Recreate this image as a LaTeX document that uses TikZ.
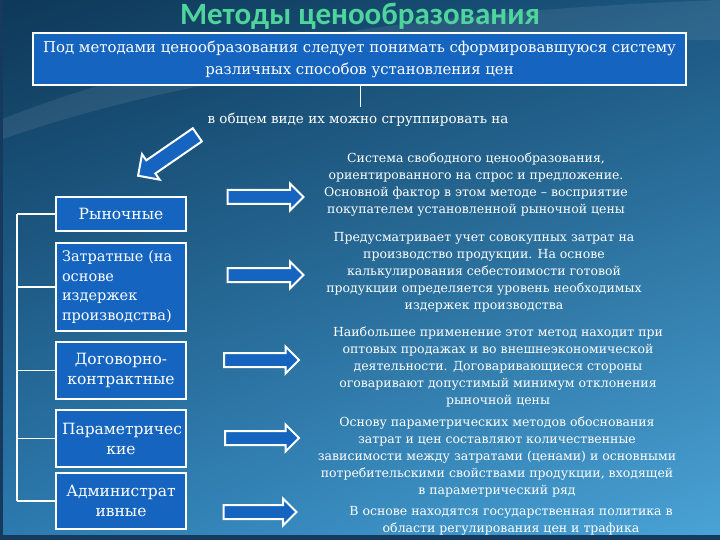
\documentclass[tikz,border=0pt]{standalone}
\usepackage{fontspec}
\setmainfont{DejaVu Serif}
\newfontfamily\titlefont{Carlito}
\usetikzlibrary{shapes.arrows,shadings}
\definecolor{boxblue}{HTML}{1565C0}
\definecolor{titlegreen}{HTML}{4FD49C}
\definecolor{bgUL}{HTML}{0E3858}
\definecolor{bgUR}{HTML}{1B5680}
\definecolor{bgLL}{HTML}{2C7AAF}
\definecolor{bgLR}{HTML}{4AA3D6}
\definecolor{edgedark}{HTML}{163A5E}
\tikzset{
  bluebox/.style={draw=white, line width=2.2pt, fill=boxblue, text=white, inner sep=3pt},
  lbox/.style={bluebox, minimum width=130pt, text width=118pt, align=center,
    font=\fontsize{15.5}{20}\selectfont},
  blockarrow/.style={single arrow, draw=white, line width=2pt, fill=boxblue,
    inner xsep=0pt, inner ysep=6pt, single arrow head extend=6.5pt, shape border rotate=0},
  desc/.style={text=white, align=center, font=\fontsize{12.5}{17}\selectfont, inner sep=0pt},
  linkline/.style={draw=white, line width=1.3pt}
}
\begin{document}
\begin{tikzpicture}[x=1pt,y=-1pt]
\useasboundingbox (0,0) rectangle (720,540);
% background
\shade[upper left=bgUL, upper right=bgUR, lower left=bgLL, lower right=bgLR] (0,0) rectangle (720,540);
\fill[white, opacity=0.08] (0,120) .. controls (200,40) and (450,10) .. (720,0) -- (720,40) .. controls (450,40) and (200,70) .. (0,140) -- cycle;
\fill[edgedark] (0,0) rectangle (3,540);
\fill[edgedark] (0,535) rectangle (720,540);
% title
\node[font=\titlefont\bfseries\fontsize{31}{31}\selectfont, text=titlegreen] (title) at (360,16) {Методы ценообразования};
% definition box
\node[bluebox, minimum width=653pt, minimum height=52pt, align=center,
  font=\fontsize{14.9}{22}\selectfont] (def) at (359.5,59)
  {Под методами ценообразования следует понимать сформировавшуюся систему\\различных способов установления цен};
\node[text=white, font=\fontsize{13.5}{16}\selectfont, inner sep=1pt] (grp) at (358,120) {в общем виде их можно сгруппировать на};
\coordinate (gl) at (360,107);
\draw[linkline, line width=1pt] (def.south -| gl) -- (gl);
% diagonal arrow
\node[blockarrow, minimum height=72pt, inner ysep=7pt, single arrow head extend=7.5pt, rotate=214.6] (da) at (171,153) {};
% left boxes
\node[lbox, minimum height=34pt] (b1) at (121,214) {Рыночные};
\node[lbox, minimum height=88pt, align=left, font=\fontsize{14.5}{19.5}\selectfont] (b2) at (121,287)
  {Затратные (на\\основе\\издержек\\производства)};
\node[lbox, minimum height=57pt] (b3) at (121,370.5) {Договорно-\\контрактные};
\node[lbox, minimum height=57pt] (b4) at (121,438.5) {Параметричес\\кие};
\node[lbox, minimum height=56pt] (b5) at (121,501) {Администрат\\ивные};
% bracket
\coordinate (sp1) at (17,214);
\coordinate (sp5) at (17,501);
\draw[linkline] (sp1) -- (sp5);
\foreach \b in {b1,b2,b3,b4,b5} { \draw[linkline] (\b.west -| sp1) -- (\b.west); }
% right arrows
\node[blockarrow, minimum height=76pt] (ra1) at (262,197) {};
\node[blockarrow, minimum height=76pt] (ra2) at (262,275) {};
\node[blockarrow, minimum height=75pt] (ra3) at (258,360) {};
\node[blockarrow, minimum height=74pt] (ra4) at (258.5,438) {};
\node[blockarrow, minimum height=73pt] (ra5) at (256.5,512) {};
% descriptions
\node[desc] (t1) at (476,184.5) {Система свободного ценообразования,\\ориентированного на спрос и предложение.\\Основной фактор в этом методе – восприятие\\покупателем установленной рыночной цены};
\node[desc] (t2) at (484,272) {Предусматривает учет совокупных затрат на\\производство продукции. На основе\\калькулирования себестоимости готовой\\продукции определяется уровень необходимых\\издержек производства};
\node[desc] (t3) at (498,367) {Наибольшее применение этот метод находит при\\оптовых продажах и во внешнеэкономической\\деятельности. Договаривающиеся стороны\\оговаривают допустимый минимум отклонения\\рыночной цены};
\node[desc] (t4) at (497,457) {Основу параметрических методов обоснования\\затрат и цен составляют количественные\\зависимости между затратами (ценами) и основными\\потребительскими свойствами продукции, входящей\\в параметрический ряд};
\node[desc] (t5) at (511,520.5) {В основе находятся государственная политика в\\области регулирования цен и трафика};
\end{tikzpicture}
\end{document}
